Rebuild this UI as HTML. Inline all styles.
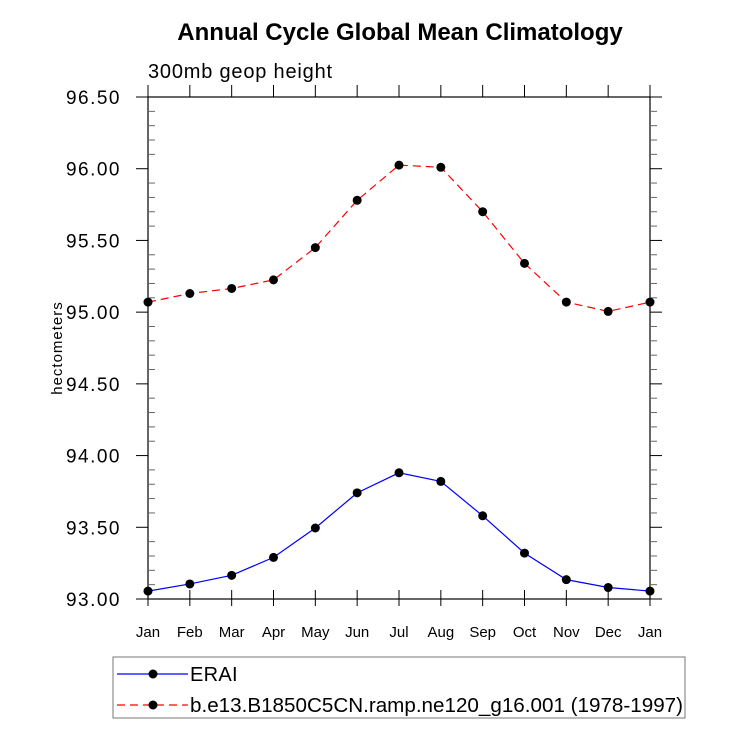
<!DOCTYPE html>
<html><head><meta charset="utf-8"><style>
body{margin:0;background:#fff;}
svg{display:block;font-family:"Liberation Sans",sans-serif;}
</style></head><body>
<svg id="c" width="733" height="730">
<text x="400" y="40" text-anchor="middle" font-size="24" font-weight="bold">Annual Cycle Global Mean Climatology</text>
<text x="148" y="78" font-size="20" letter-spacing="0.8">300mb geop height</text>
<text transform="translate(62,348) rotate(-90)" text-anchor="middle" font-size="15" letter-spacing="1">hectometers</text>
<g id="axes"></g>
<g id="series"></g>
<g>
<rect x="113" y="657" width="572" height="61" fill="none" stroke="#777" stroke-width="1"/>
<g>
<line x1="117" y1="674" x2="188" y2="674" stroke="#0000ff" stroke-width="1.2"/>
<circle cx="153" cy="674" r="4.5" fill="#000"/>
<text x="190" y="681" font-size="20" letter-spacing="0.3">ERAI</text>
</g>
<g>
<line x1="117" y1="705" x2="188" y2="705" stroke="#ff0000" stroke-width="1.2" stroke-dasharray="8,5"/>
<circle cx="153" cy="705" r="4.5" fill="#000"/>
<text x="190" y="712" font-size="20" textLength="493" lengthAdjust="spacingAndGlyphs">b.e13.B1850C5CN.ramp.ne120_g16.001 (1978-1997)</text>
</g>
</g>
</svg>
<script>
const months=["Jan","Feb","Mar","Apr","May","Jun","Jul","Aug","Sep","Oct","Nov","Dec","Jan"];
const eraiValues=[93.055,93.105,93.165,93.29,93.495,93.74,93.88,93.82,93.58,93.32,93.135,93.08,93.055];
const modelValues=[95.07,95.13,95.165,95.225,95.45,95.78,96.025,96.01,95.70,95.34,95.07,95.005,95.07];
const yTicks=[93.0,93.5,94.0,94.5,95.0,95.5,96.0,96.5];

const NS="http://www.w3.org/2000/svg";
const L=148,R=650,T=97,B=599,yMin=93,yMax=96.5;
const xs=i=>L+(R-L)*i/(months.length-1);
const ys=v=>B-(v-yMin)/(yMax-yMin)*(B-T);
function mk(tag,attrs,parent){const e=document.createElementNS(NS,tag);for(const k in attrs)e.setAttribute(k,attrs[k]);parent.appendChild(e);return e;}
const ax=document.getElementById('axes');
const frame=mk('rect',{x:L,y:T,width:R-L,height:B-T,fill:'none',stroke:'#000','stroke-width':1.2},ax);


months.forEach((m,i)=>{
  const x=xs(i);
  mk('line',{x1:x,y1:B-9,x2:x,y2:B+7,stroke:'#000','stroke-width':1},ax);
  mk('line',{x1:x,y1:T-12,x2:x,y2:T,stroke:'#000','stroke-width':1},ax);
  const t=mk('text',{x:x,y:B+38,'text-anchor':'middle','font-size':15},ax);
  t.textContent=m;
  
  
});
for(let v=yMin;v<=yMax+1e-6;v+=0.1){
  const y=ys(v);
  const major=Math.abs(v*2-Math.round(v*2))<1e-6;
  if(major){
    mk('line',{x1:L-12,y1:y,x2:L,y2:y,stroke:'#000','stroke-width':1},ax);
    mk('line',{x1:R,y1:y,x2:R+12,y2:y,stroke:'#000','stroke-width':1},ax);
  }else{
    mk('line',{x1:L,y1:y,x2:L+7,y2:y,stroke:'#666','stroke-width':1},ax);
    mk('line',{x1:R,y1:y,x2:R+7,y2:y,stroke:'#666','stroke-width':1},ax);
  }
}
yTicks.forEach(v=>{
  const t=mk('text',{x:L-27,y:ys(v)+7,'text-anchor':'end','font-size':19,'letter-spacing':1.5},ax);
  t.textContent=v.toFixed(2);
  
  
});
const sg=document.getElementById('series');
function drawSeries(vals,color,dash,name){
  const g=mk('g',{},sg);
  
  
  const pts=vals.map((v,i)=>xs(i)+','+ys(v)).join(' ');
  const a={points:pts,fill:'none',stroke:color,'stroke-width':1.2};
  if(dash)a['stroke-dasharray']=dash;
  mk('polyline',a,g);
  vals.forEach((v,i)=>{
    const c=mk('circle',{cx:xs(i),cy:ys(v),r:4.5,fill:'#000'},g);
    
    
  });
}
drawSeries(modelValues,'#ff0000','8,5','model-series');
drawSeries(eraiValues,'#0000ff',null,'erai-series');
</script>
</body></html>
